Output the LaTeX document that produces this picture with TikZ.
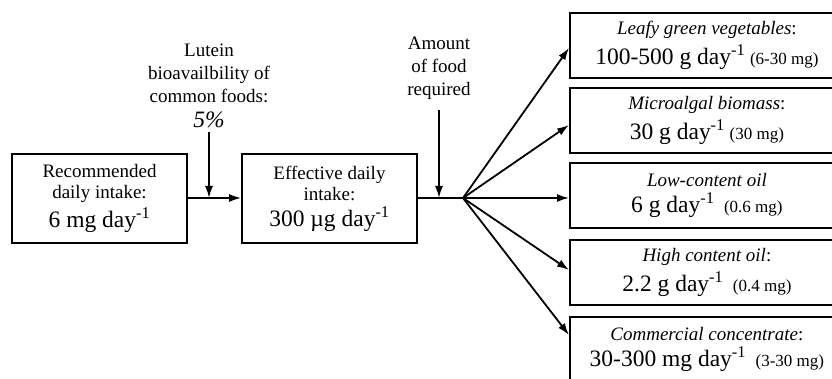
\documentclass[tikz,border=0pt]{standalone}
\usepackage{fontspec}
\setmainfont{Liberation Serif}
\usetikzlibrary{%
  arrows.meta,
  calc
}
\tikzset{>={Latex[length=12pt,width=8pt]}}
\tikzset{
  lbox/.style={draw, line width=1.8pt, minimum width=175pt, minimum height=89pt,
    align=center, inner sep=2pt, font=\txtsize},
  fbox/.style={draw, line width=1.8pt, anchor=west, minimum width=274pt,
    minimum height=65pt, align=center, inner sep=2pt, font=\txtsize},
  note/.style={align=center, inner xsep=0pt, anchor=south, font=\notesize},
  flow/.style={line width=1.8pt}
}
\newcommand{\txtsize}{\fontsize{19}{21.5}\selectfont}
\newcommand{\notesize}{\fontsize{19}{23}\selectfont}
\newcommand{\valsize}{\fontsize{23.5}{27}\selectfont}
\newcommand{\mgsize}{\fontsize{17}{20}\selectfont}

\begin{document}
\begin{tikzpicture}[x=1pt,y=-1pt]

  \useasboundingbox (0,0) rectangle (832,379);
  \clip (0,0) rectangle (832,379);

  \node[lbox] (rec) at (99.5,198.5)
    {Recommended\\daily intake:\\[4pt]{\valsize 6 mg day\textsuperscript{-1}}};
  \node[lbox] (eff) at (329.5,198.5)
    {Effective daily\\intake:\\[4pt]{\valsize 300 µg day\textsuperscript{-1}}};

  \node[note, inner ysep=4pt] (lut) at (209,132)
    {Lutein\\bioavailbility of\\common foods:\\[2pt]{\valsize\itshape 5\%}};
  \node[note, inner ysep=10pt] (amt) at (439,110)
    {Amount\\of food\\required};

  \coordinate (j1) at (209,198);
  \coordinate (j2) at (439,198);
  \coordinate (fan) at (463,198);

  \node[fbox] (leafy) at (569,45.5)
    {\textit{Leafy green vegetables}:\\[5pt]{\valsize 100-500 g day\textsuperscript{-1}} {\mgsize (6-30 mg)}};
  \node[fbox] (algae) at (569,120.5)
    {\textit{Microalgal biomass}:\\[5pt]{\valsize 30 g day\textsuperscript{-1}} {\mgsize (30 mg)}};
  \node[fbox] (lowoil) at (569,195.5)
    {\textit{Low-content oil}\\[5pt]{\valsize 6 g day\textsuperscript{-1}}\ \ {\mgsize (0.6 mg)}};
  \node[fbox] (highoil) at (569,272.5)
    {\textit{High content oil}:\\[5pt]{\valsize 2.2 g day\textsuperscript{-1}}\ \ {\mgsize (0.4 mg)}};
  \node[fbox] (conc) at (569,349.5)
    {\textit{Commercial concentrate}:\\[5pt]{\valsize 30-300 mg day\textsuperscript{-1}}\ \ {\mgsize (3-30 mg)}};

  \draw[flow,->] (rec.east |- j1) -- (eff.west |- j1);
  \draw[flow,->] (lut.south) -- (j1);
  \draw[flow] (eff.east |- j2) -- (fan);
  \draw[flow,->] (amt.south) -- (j2);

  \foreach \b/\s in {leafy/-2.5, algae/-4.5, lowoil/-2.5, highoil/2.5, conc/14.5}
    \draw[flow,->] (fan) -- ([yshift=\s pt]\b.west);

\end{tikzpicture}
\end{document}
